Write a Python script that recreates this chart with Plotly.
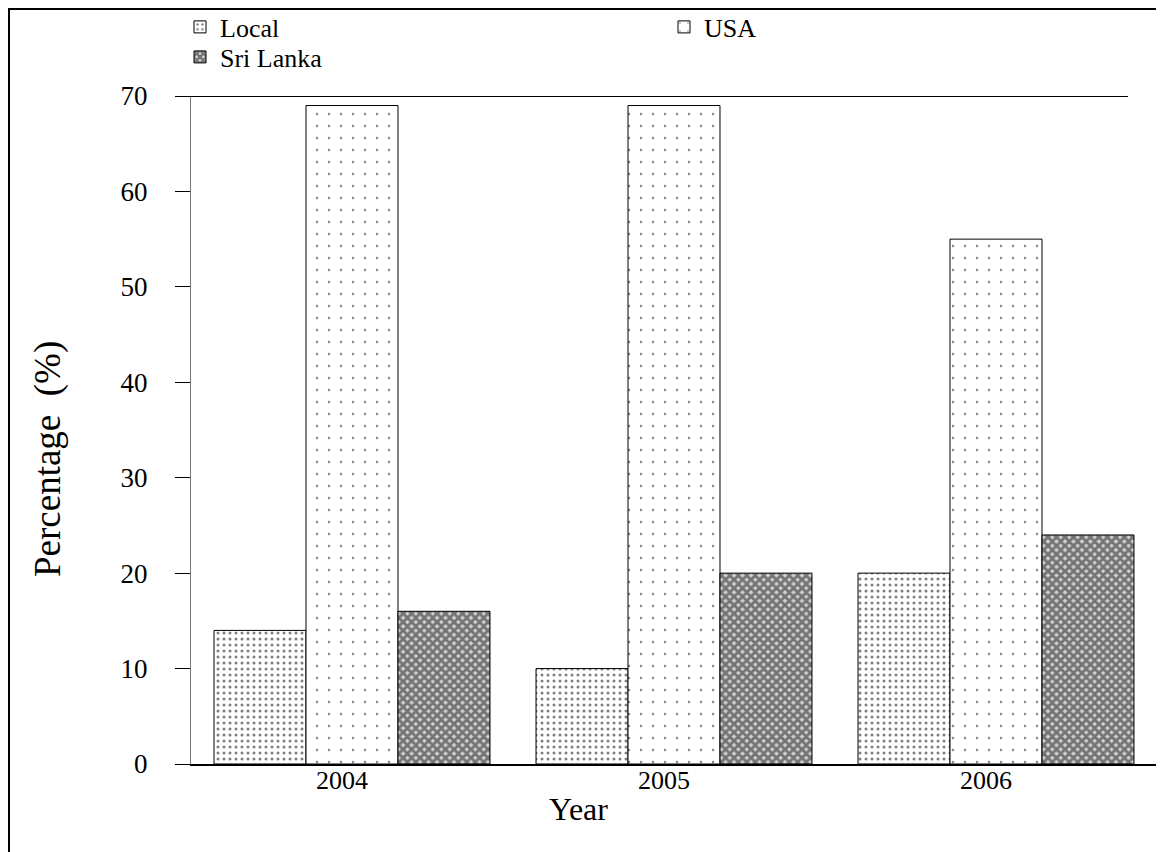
import plotly.graph_objects as go

years = ["2004", "2005", "2006"]
local_vals = [14, 10, 20]
usa_vals = [69, 69, 55]
srilanka_vals = [16, 20, 24]
y_ticks = [0, 10, 20, 30, 40, 50, 60, 70]

FONT = "Liberation Serif, Times New Roman, serif"

fig = go.Figure()
fig.add_trace(go.Bar(
    x=years, y=local_vals, name="Local", legend="legend",
    marker=dict(color="white", line=dict(color="black", width=1),
                pattern=dict(shape=".", size=6, solidity=0.2, fgcolor="#000", bgcolor="white")),
))
fig.add_trace(go.Bar(
    x=years, y=usa_vals, name="USA", legend="legend2",
    marker=dict(color="white", line=dict(color="black", width=1),
                pattern=dict(shape=".", size=12, solidity=0.035, fgcolor="#111", bgcolor="white")),
))
fig.add_trace(go.Bar(
    x=years, y=srilanka_vals, name="Sri Lanka", legend="legend3",
    marker=dict(color="white", line=dict(color="black", width=1),
                pattern=dict(shape="x", size=6, solidity=0.72, fgcolor="#161616", bgcolor="#d0d0d0")),
))

# page is drawn with an 8px body offset; coordinates below are in page pixels
OFF = 8
W, H = 1164, 852
L, R, T, B = 191 - OFF, 1164 - (1157 - OFF), 96 - OFF, 852 - (764 - OFF)
pw, ph = W - L - R, H - T - B

def px(x):
    return (x - OFF - L) / pw

def py(y):
    return (H - B - (y - OFF)) / ph

shapes = [
    # outer frame (left and top edges visible)
    dict(type="rect", xref="paper", yref="paper", x0=px(9), x1=px(1250), y0=py(950), y1=py(9),
         line=dict(color="black", width=2), fillcolor="rgba(0,0,0,0)", layer="above"),
    # top line at 70
    dict(type="line", xref="paper", yref="y", x0=px(176), x1=px(1128), y0=70, y1=70,
         line=dict(color="black", width=2)),
]

leg_common = dict(xanchor="left", yanchor="middle",
                  font=dict(size=26, family=FONT), bgcolor="rgba(0,0,0,0)")

fig.update_layout(
    width=W, height=H,
    margin=dict(l=L, r=R, t=T, b=B, autoexpand=False),
    paper_bgcolor="white", plot_bgcolor="white",
    font=dict(family=FONT, color="black", size=26),
    barmode="group", bargap=0.143, bargroupgap=0,
    showlegend=True,
    legend=dict(x=px(180), y=py(27), **leg_common),
    legend2=dict(x=px(664), y=py(27), **leg_common),
    legend3=dict(x=px(180), y=py(57), **leg_common),
    xaxis=dict(showline=True, linecolor="black", linewidth=2, ticks="",
               showgrid=False, tickfont=dict(size=26, family=FONT), ticklabelshift=-10,
               ticklabelstandoff=-8),
    yaxis=dict(range=[0, 70], tickvals=y_ticks, showline=True, linecolor="#777", linewidth=1,
               ticks="outside", ticklen=15, tickcolor="black", tickwidth=1,
               showgrid=False, zeroline=False, tickfont=dict(size=27, family=FONT),
               ticklabelstandoff=22),
    shapes=shapes,
    annotations=[
        dict(text="Percentage  (%)", xref="paper", yref="paper", x=px(48), y=py(459),
             xanchor="center", yanchor="middle", textangle=-90, showarrow=False,
             font=dict(size=37, family=FONT)),
        dict(text="Year", xref="paper", yref="paper", x=px(578), y=py(809),
             xanchor="center", yanchor="middle", showarrow=False,
             font=dict(size=32, family=FONT)),
    ],
)

fig.write_html("out.html")
